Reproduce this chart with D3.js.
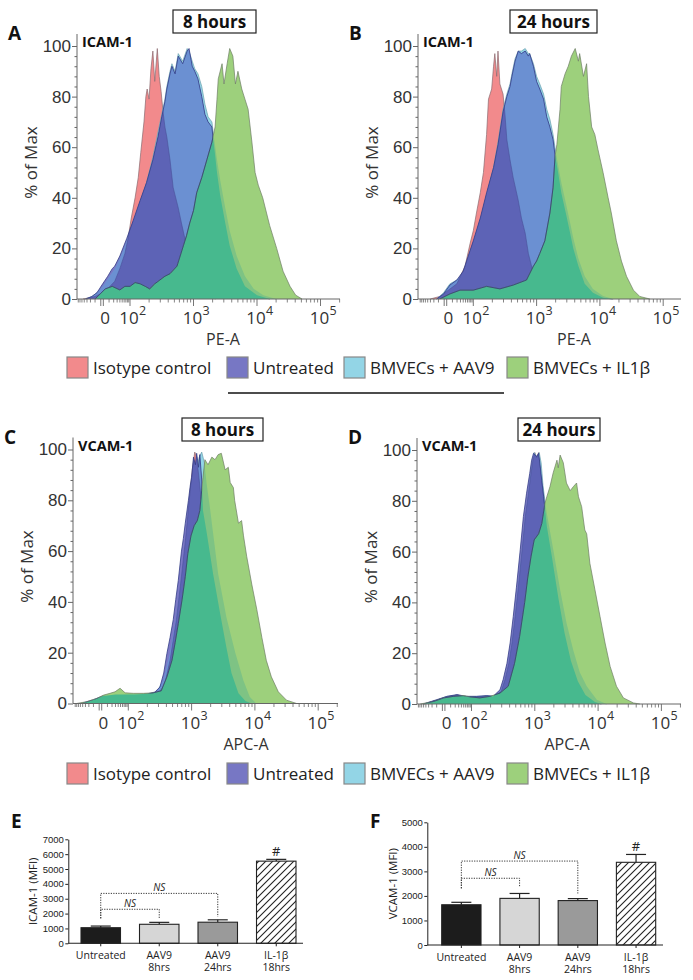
<!DOCTYPE html>
<html>
<head>
<meta charset="utf-8">
<script src="https://cdn.jsdelivr.net/npm/d3@7"></script>
<style>
  body { margin: 0; background: #fff; }
  svg { font-family: "Open Sans", sans-serif; }
</style>
</head>
<body>
<svg id="fig" width="693" height="980"></svg>
<script>
// ---- data: histograms as [display decade (10^2 = 2), % of max] ----
var seriesNames = ["Isotype control", "Untreated", "BMVECs + AAV9", "BMVECs + IL1β"];
var seriesColors = ["#f28a8c", "#7777c4", "#93d5e6", "#9dd07c"];

var isoA = [[1.26,0],[1.45,1],[1.61,3],[1.76,7],[1.84,12],[1.92,18],[1.97,24],[2.02,32],[2.08,40],[2.13,48],[2.17,58],[2.22,70],[2.25,80],[2.27,83],[2.30,79],[2.33,91],[2.36,98],[2.39,86],[2.43,99],[2.46,88],[2.49,82],[2.52,74],[2.55,68],[2.58,64],[2.63,55],[2.68,44],[2.76,36],[2.81,30],[2.89,21],[2.97,13],[3.07,5],[3.21,1],[3.35,0]];
var untrA = [[1.30,0],[1.40,1],[1.48,2.5],[1.57,6],[1.65,9],[1.72,12],[1.76,13],[1.84,17],[1.95,24],[2.05,31],[2.16,39],[2.26,46],[2.36,55],[2.44,64],[2.50,72],[2.55,78],[2.58,83],[2.63,89],[2.66,92],[2.71,89],[2.76,96],[2.83,93],[2.90,98],[2.93,99],[2.98,92],[3.02,90],[3.07,87],[3.13,80],[3.18,73],[3.23,70],[3.29,68],[3.31,63],[3.34,57],[3.37,50],[3.42,41],[3.50,30],[3.57,21],[3.68,12],[3.81,5],[4.00,1.5],[4.20,0]];
var aavA = [[1.30,0],[1.40,1],[1.48,2.5],[1.57,5],[1.65,8],[1.76,12],[1.84,16],[1.95,23],[2.05,30],[2.16,38],[2.26,46],[2.36,56],[2.44,66],[2.50,73],[2.55,79],[2.58,84],[2.63,90],[2.66,93],[2.71,90],[2.76,97],[2.83,94],[2.90,99],[2.93,98],[2.98,94],[3.02,91],[3.07,89],[3.13,84],[3.18,77],[3.23,72],[3.29,70],[3.31,66],[3.37,55],[3.42,47],[3.50,36],[3.57,27],[3.68,17],[3.81,9],[3.95,4],[4.10,1.5],[4.30,0]];
var il1A = [[1.45,0],[1.53,2],[1.61,4],[1.72,5],[1.84,3.6],[1.92,5],[2.00,5],[2.08,6.5],[2.16,6],[2.24,5],[2.31,4],[2.39,6],[2.47,7.5],[2.55,9],[2.63,10],[2.74,13],[2.79,17],[2.84,21],[2.89,25],[2.94,30],[3.00,35],[3.05,42],[3.13,48],[3.21,55],[3.29,62],[3.34,68],[3.37,79],[3.39,87],[3.42,90],[3.45,93],[3.48,85],[3.53,93],[3.57,99],[3.62,96],[3.66,85],[3.70,90],[3.76,83],[3.81,79],[3.86,75],[3.92,62],[3.97,50],[4.02,45],[4.09,40],[4.20,29],[4.31,20],[4.41,11],[4.52,5],[4.61,1.5],[4.71,0]];

var isoB = [[1.32,0],[1.47,1],[1.58,3],[1.74,6],[1.87,13],[1.95,22],[2.00,27],[2.05,34],[2.11,42],[2.16,50],[2.21,65],[2.24,79],[2.29,83],[2.32,92],[2.34,97],[2.37,88],[2.39,98],[2.42,85],[2.47,81],[2.50,73],[2.53,63],[2.58,55],[2.63,48],[2.71,39],[2.76,32],[2.82,26],[2.87,18],[2.95,10],[3.05,5],[3.21,1.6],[3.37,0]];
var untrB = [[1.42,0],[1.53,2],[1.63,5.5],[1.74,7.5],[1.84,11],[1.92,17],[2.00,23],[2.11,32],[2.21,42],[2.32,52],[2.39,61],[2.47,74],[2.53,80],[2.58,84],[2.61,88],[2.66,94],[2.71,98],[2.76,97],[2.82,98],[2.87,96],[2.89,97],[2.95,92],[3.00,86],[3.05,83],[3.11,79],[3.16,72],[3.21,68],[3.26,63],[3.29,57],[3.34,50],[3.39,42],[3.47,33],[3.53,26],[3.58,20],[3.66,13],[3.76,6],[3.89,2.5],[4.05,0.5],[4.20,0]];
var aavB = [[1.42,0],[1.53,2.5],[1.63,6],[1.74,7.5],[1.84,10],[1.92,16],[2.00,22],[2.11,31],[2.21,41],[2.32,52],[2.39,62],[2.47,75],[2.53,81],[2.58,85],[2.61,89],[2.66,95],[2.71,98],[2.76,98],[2.82,99],[2.87,97],[2.89,97],[2.95,93],[3.00,88],[3.05,85],[3.11,81],[3.16,75],[3.21,71],[3.26,65],[3.29,60],[3.34,53],[3.39,46],[3.47,37],[3.53,30],[3.58,24],[3.66,16],[3.76,9],[3.89,4],[4.05,1.2],[4.21,0]];
var il1B = [[1.47,0],[1.63,2],[1.79,3.5],[2.00,3.5],[2.21,5],[2.42,4],[2.63,5.5],[2.84,7.5],[2.95,13],[3.00,15],[3.05,18],[3.13,23],[3.21,34],[3.26,44],[3.29,56],[3.32,61],[3.37,75],[3.39,84],[3.45,89],[3.50,92],[3.55,96],[3.61,99],[3.66,94],[3.68,97],[3.74,88],[3.79,93],[3.82,80],[3.87,68],[3.92,65],[3.97,59],[4.05,50],[4.13,40],[4.18,34],[4.26,23],[4.34,15],[4.42,9],[4.53,3.5],[4.63,1],[4.79,0]];

var isoC = [[1.30,0],[1.50,1],[1.70,2.5],[2.00,3],[2.30,3],[2.47,4],[2.57,7],[2.66,17],[2.76,33],[2.84,50],[2.91,66],[2.97,82],[3.01,92],[3.05,99],[3.08,97],[3.12,88],[3.18,74],[3.25,58],[3.35,40],[3.45,24],[3.55,12],[3.65,5],[3.80,1],[3.90,0]];
var untrC = [[1.25,0],[1.45,1.5],[1.60,3],[1.80,3.5],[2.10,3.5],[2.30,3.8],[2.42,4.5],[2.50,6.5],[2.56,12],[2.61,19.7],[2.66,26],[2.71,33],[2.75,41],[2.79,48.5],[2.84,60],[2.87,65],[2.90,71],[2.95,80],[2.98,86],[3.00,89],[3.03,97],[3.06,94],[3.08,98.5],[3.11,93],[3.13,98],[3.16,88],[3.18,76],[3.24,67],[3.34,51],[3.45,35.5],[3.55,22],[3.63,12],[3.74,4],[3.85,1],[3.95,0]];
var aavC = [[1.30,0],[1.50,1.5],[1.70,3],[2.00,3.5],[2.30,3.5],[2.45,4.5],[2.55,9],[2.65,19],[2.75,33],[2.83,48],[2.90,62],[2.97,78],[3.03,88],[3.08,92],[3.12,97],[3.16,99],[3.20,95],[3.24,86],[3.29,77],[3.35,65],[3.42,51],[3.55,34],[3.69,20],[3.82,9],[3.92,2.6],[4.02,0]];
var il1C = [[1.18,0],[1.34,0.7],[1.50,2],[1.61,3.3],[1.71,4],[1.79,4.6],[1.87,6],[1.95,4.2],[2.08,4],[2.24,4],[2.39,4.2],[2.52,5],[2.61,10.5],[2.69,17],[2.74,24],[2.79,31.5],[2.85,41],[2.90,50],[2.94,59],[2.99,66],[3.04,70],[3.09,72],[3.13,76],[3.16,84],[3.18,89],[3.21,96],[3.26,94],[3.32,97],[3.37,96],[3.42,98],[3.47,98.5],[3.53,92],[3.58,93],[3.61,87],[3.66,85],[3.68,80],[3.74,71],[3.79,72],[3.82,66],[3.87,58],[3.95,47],[4.03,37],[4.11,26],[4.18,17],[4.26,10.5],[4.37,4.6],[4.50,1.3],[4.66,0]];

var isoD = [[1.25,0],[1.45,1.5],[1.61,2.8],[1.77,3.5],[1.92,3],[2.08,2.8],[2.24,3],[2.36,3],[2.47,5],[2.53,9.6],[2.59,16],[2.64,24],[2.69,34.5],[2.74,46],[2.80,60.7],[2.85,73.8],[2.90,83],[2.94,90.8],[2.97,96],[3.00,99],[3.03,97],[3.06,99],[3.09,93],[3.13,84],[3.19,70],[3.27,55],[3.37,38],[3.47,24],[3.57,13],[3.68,6],[3.80,2],[3.95,0]];
var untrD = [[1.24,0],[1.45,1.7],[1.61,3],[1.77,3.7],[1.92,3],[2.08,3],[2.24,3.3],[2.34,3],[2.45,5.6],[2.50,9.6],[2.56,16],[2.61,24],[2.66,34.5],[2.71,46],[2.77,60.7],[2.82,73.8],[2.87,83],[2.92,90.8],[2.95,96],[2.98,98.7],[3.03,97.4],[3.06,98.7],[3.08,94.8],[3.11,88],[3.14,81.6],[3.19,70],[3.27,58],[3.37,42],[3.47,28],[3.57,17],[3.68,9],[3.80,3.5],[3.95,0.8],[4.05,0]];
var aavD = [[1.24,0],[1.45,1.5],[1.61,3],[1.77,3.5],[1.92,3],[2.08,3],[2.24,3.2],[2.36,3.2],[2.46,5],[2.52,9],[2.58,15],[2.63,23],[2.68,33],[2.73,45],[2.79,59],[2.84,72],[2.89,82],[2.93,90],[2.96,95],[2.99,99],[3.04,97],[3.07,99],[3.10,95],[3.13,86],[3.16,80],[3.19,75],[3.29,61],[3.40,45],[3.50,32],[3.61,21],[3.71,12.5],[3.82,7],[3.98,1.7],[4.13,0]];
var il1D = [[1.19,0],[1.40,1],[1.56,2.4],[1.71,3],[1.87,3.3],[1.98,2.8],[2.13,2.4],[2.29,3],[2.45,4.3],[2.58,7],[2.68,16],[2.76,26.6],[2.84,40],[2.89,50],[2.94,58],[2.99,64.6],[3.06,67],[3.11,71],[3.16,79],[3.19,81.6],[3.24,85.6],[3.29,91],[3.35,96],[3.37,93],[3.40,98],[3.45,95],[3.50,87],[3.56,84],[3.61,85.6],[3.66,87],[3.69,81.6],[3.74,77.7],[3.79,68.5],[3.82,67],[3.87,55.4],[3.95,45],[4.03,34.5],[4.11,24],[4.19,14.8],[4.29,7],[4.40,2.4],[4.56,0.4],[4.66,0]];

var histYTicks = [0, 20, 40, 60, 80, 100];
var histXMajor = [2, 3, 4, 5];
var histXLabels = ["2", "3", "4", "5"];

// ---- bar charts ----
var barCats = ["Untreated", "AAV9|8hrs", "AAV9|24hrs", "IL-1β|18hrs"];
var icamMean = [1050, 1280, 1420, 5530];
var icamErr = [110, 130, 160, 120];
var vcamMean = [1640, 1900, 1810, 3370];
var vcamErr = [100, 200, 80, 320];
var icamTicks = [0, 1000, 2000, 3000, 4000, 5000, 6000, 7000];
var vcamTicks = [0, 1000, 2000, 3000, 4000, 5000];
// NS brackets: [from bar, to bar, height, left foot, right foot]
var icamNS = [[0, 1, 2290, 1680, 1680], [0, 2, 3360, 1680, 1790]];
var vcamNS = [[0, 1, 2720, 2310, 2350], [0, 2, 3420, 2310, 2100]];

var svg = d3.select("#fig");
var defs = svg.append("defs");

var pat = defs.append("pattern").attr("id", "hatch").attr("patternUnits", "userSpaceOnUse")
    .attr("width", 7).attr("height", 7);
pat.append("rect").attr("width", 7).attr("height", 7).attr("fill", "#fff");
pat.append("path").attr("d", "M-1,1 L1,-1 M0,7 L7,0 M6,8 L8,6")
    .attr("stroke", "#222").attr("stroke-width", 1.1);

// logicle-ish position of small linear values (0..100) around zero
function linPos(v, p0) {
  var s = v < 0 ? -1 : 1;
  return p0 + s * 0.44 * Math.log10(1 + Math.abs(v) / 15) / Math.log10(1 + 100 / 15);
}

function drawHist(cfg) {
  var g = svg.append("g");
  var x = d3.scaleLinear().domain([2, 3]).range([cfg.x2, cfg.x2 + cfg.dec]);
  x.domain([x.invert(cfg.ox), x.invert(cfg.right)]).range([cfg.ox, cfg.right]);
  var y = d3.scaleLinear().domain([0, 100]).range([cfg.y0, cfg.y100]);
  var area = d3.area().x(function(d){ return x(d[0]); }).y0(y(0)).y1(function(d){ return y(d[1]); });
  var line = d3.line().x(function(d){ return x(d[0]); }).y(function(d){ return y(d[1]); });
  var iso = cfg.data[0], untr = cfg.data[1], aav = cfg.data[2], il1 = cfg.data[3];

  defs.append("clipPath").attr("id", cfg.id + "u").append("path").attr("d", area(untr));
  defs.append("clipPath").attr("id", cfg.id + "a").append("path").attr("d", area(aav));

  function outline(d, col, w, clip) {
    var p = g.append("path").attr("d", line(d)).attr("fill", "none").attr("stroke", col).attr("stroke-width", w);
    if (clip) p.attr("clip-path", "url(#" + cfg.id + clip + ")");
  }
  g.append("path").attr("d", area(iso)).attr("fill", "#f28a8c");
  outline(iso, "#8a6a70", 0.7);
  g.append("path").attr("d", area(aav)).attr("fill", "#93d5e6");
  outline(aav, "#6d9fae", 0.7);
  g.append("path").attr("d", area(untr)).attr("fill", "#7b79c6");
  g.append("path").attr("d", area(untr)).attr("fill", "#6b90d2").attr("clip-path", "url(#" + cfg.id + "a)");
  g.append("path").attr("d", area(iso)).attr("fill", "#5d63b6").attr("clip-path", "url(#" + cfg.id + "u)");
  outline(iso, "#4a5098", 0.6, "u");
  outline(untr, "#333d86", 0.8);
  g.append("path").attr("d", area(il1)).attr("fill", "#9dd07c");
  g.append("path").attr("d", area(il1)).attr("fill", "#7ec384").attr("clip-path", "url(#" + cfg.id + "a)");
  g.append("path").attr("d", area(il1)).attr("fill", "#47b98e").attr("clip-path", "url(#" + cfg.id + "u)");
  outline(il1, "#6f7d66", 0.7);
  outline(il1, "#2d3d7c", 0.8, "u");

  // y axis
  var ya = g.append("g").attr("transform", "translate(" + cfg.ox + ",0)")
      .call(d3.axisLeft(y).tickValues(histYTicks).tickSize(5).tickSizeOuter(0).tickPadding(1));
  ya.select(".domain").remove();
  ya.selectAll("line").attr("stroke", "#666");
  ya.selectAll("text").attr("font-size", 17).attr("fill", "#333");
  var ym = g.append("g").attr("transform", "translate(" + cfg.ox + ",0)")
      .call(d3.axisLeft(y).tickValues(d3.range(0, 101, 4).filter(function(v){ return v % 20; }))
      .tickSize(2.5).tickFormat(""));
  ym.select(".domain").remove();
  ym.selectAll("line").attr("stroke", "#666");
  g.append("line").attr("x1", cfg.ox).attr("x2", cfg.ox).attr("y1", cfg.y0).attr("y2", cfg.y100 - 12)
      .attr("stroke", "#666").attr("stroke-width", 1);

  // x axis (logicle style)
  var p0 = 1.56;
  var minors = [];
  [10, 20, 30, 40, 50, 60, 70, 80, 90].forEach(function(v){ minors.push(linPos(v, p0)); minors.push(linPos(-v, p0)); });
  [2, 3, 4, 5].forEach(function(d){ for (var k = 2; k <= 9; k++) minors.push(d + Math.log10(k)); });
  minors = minors.filter(function(p){ return x(p) > cfg.ox + 1 && x(p) < cfg.right; });
  var xa = g.append("g").attr("transform", "translate(0," + cfg.y0 + ")");
  xa.append("line").attr("x1", cfg.ox).attr("x2", cfg.right).attr("stroke", "#666");
  xa.selectAll(".mn").data(minors).enter().append("line")
      .attr("x1", function(p){ return x(p); }).attr("x2", function(p){ return x(p); })
      .attr("y1", 0).attr("y2", 3.5).attr("stroke", "#666").attr("stroke-width", 0.8);
  xa.selectAll(".mj").data(histXMajor.concat([p0 - 0.02, p0 + 0.02])).enter().append("line")
      .attr("x1", function(p){ return x(p); }).attr("x2", function(p){ return x(p); })
      .attr("y1", 0).attr("y2", 7).attr("stroke", "#666").attr("stroke-width", 0.9);
  var lb = cfg.y0 + 25;
  g.append("text").attr("x", x(p0) + 3).attr("y", lb).attr("text-anchor", "middle")
      .attr("font-size", 17).attr("fill", "#333").text("0");
  histXMajor.forEach(function(p, i){
    g.append("text").attr("x", x(p) - 1).attr("y", lb).attr("text-anchor", "middle")
        .attr("font-size", 17).attr("fill", "#333").text("10");
    g.append("text").attr("x", x(p) + 9).attr("y", lb - 9)
        .attr("font-size", 12.5).attr("fill", "#333").text(histXLabels[i]);
  });
  g.append("text").attr("x", cfg.xlabX).attr("y", cfg.y0 + 46).attr("text-anchor", "middle")
      .attr("font-size", 16).attr("fill", "#333").text(cfg.xlabel);
  g.append("text").attr("transform", "translate(" + (cfg.ox - 40) + "," + ((cfg.y0 + cfg.y100) / 2 - 10) + ") rotate(-90)")
      .attr("text-anchor", "middle").attr("font-size", 17).attr("fill", "#333").text("% of Max");

  // labels
  g.append("text").attr("x", cfg.ox - 69).attr("y", cfg.y100 - 6).attr("font-size", 19)
      .attr("font-weight", "bold").attr("fill", "#111").text(cfg.letter);
  g.append("text").attr("x", cfg.ox + 5).attr("y", cfg.y100 + 1).attr("font-size", 14.5)
      .attr("font-weight", "bold").attr("fill", "#111").text(cfg.marker);
  g.append("rect").attr("x", cfg.box[0]).attr("y", cfg.box[1]).attr("width", cfg.box[2]).attr("height", 23)
      .attr("fill", "#fff").attr("stroke", "#222").attr("stroke-width", 1.2);
  g.append("text").attr("x", cfg.box[0] + cfg.box[2] / 2).attr("y", cfg.box[1] + 17.5).attr("text-anchor", "middle")
      .attr("font-size", 17).attr("font-weight", "bold").attr("fill", "#111").text(cfg.title);
}

drawHist({id: "pa", ox: 77, x2: 130, dec: 63.5, right: 340, y0: 299, y100: 46, letter: "A", marker: "ICAM-1",
  title: "8 hours", box: [173, 10, 83], xlabel: "PE-A", xlabX: 223, data: [isoA, untrA, aavA, il1A]});
drawHist({id: "pb", ox: 418, x2: 473.3, dec: 63.3, right: 681, y0: 299, y100: 46, letter: "B", marker: "ICAM-1",
  title: "24 hours", box: [510, 10, 87], xlabel: "PE-A", xlabX: 574, data: [isoB, untrB, aavB, il1B]});
drawHist({id: "pc", ox: 73, x2: 128.3, dec: 63.3, right: 338, y0: 703.5, y100: 449.5, letter: "C", marker: "VCAM-1",
  title: "8 hours", box: [182, 418, 81], xlabel: "APC-A", xlabX: 246, data: [isoC, untrC, aavC, il1C]});
drawHist({id: "pd", ox: 417, x2: 471.5, dec: 63.3, right: 681, y0: 704, y100: 450, letter: "D", marker: "VCAM-1",
  title: "24 hours", box: [518, 418, 82], xlabel: "APC-A", xlabX: 567, data: [isoD, untrD, aavD, il1D]});

// legends
function drawLegend(top) {
  var xs = [67, 227, 344, 507];
  seriesNames.forEach(function(n, i){
    svg.append("rect").attr("x", xs[i]).attr("y", top).attr("width", 21).attr("height", 21)
        .attr("fill", seriesColors[i]).attr("stroke", "#888").attr("stroke-width", 1.2);
    svg.append("text").attr("x", xs[i] + 26).attr("y", top + 17).attr("font-size", 17)
        .attr("fill", "#222").text(n);
  });
}
drawLegend(357);
drawLegend(763);
svg.append("line").attr("x1", 228).attr("x2", 504).attr("y1", 393).attr("y2", 393)
    .attr("stroke", "#111").attr("stroke-width", 1.3);

// bar charts
function drawBars(cfg) {
  var g = svg.append("g");
  var y = d3.scaleLinear().domain([0, cfg.ticks[cfg.ticks.length - 1]]).range([cfg.y0, cfg.yTop]);
  var x = d3.scaleBand().domain(barCats).range([cfg.b0, cfg.b1]).paddingInner(0.325).paddingOuter(0);
  var fills = ["#1c1c1c", "#d6d6d6", "#9a9a9a", "url(#hatch)"];
  var bw = x.bandwidth();

  barCats.forEach(function(c, i){
    var cx = x(c) + bw / 2;
    g.append("line").attr("x1", cx).attr("x2", cx).attr("y1", y(cfg.mean[i])).attr("y2", y(cfg.mean[i] + cfg.err[i]))
        .attr("stroke", "#222").attr("stroke-width", 1.2);
    g.append("line").attr("x1", cx - 10).attr("x2", cx + 10).attr("y1", y(cfg.mean[i] + cfg.err[i])).attr("y2", y(cfg.mean[i] + cfg.err[i]))
        .attr("stroke", "#222").attr("stroke-width", 1.2);
    g.append("rect").attr("x", x(c)).attr("y", y(cfg.mean[i])).attr("width", bw)
        .attr("height", y(0) - y(cfg.mean[i])).attr("fill", fills[i]).attr("stroke", "#222").attr("stroke-width", 1.1);
    g.append("line").attr("x1", cx).attr("x2", cx).attr("y1", cfg.y0).attr("y2", cfg.y0 + 3).attr("stroke", "#222");
    c.split("|").forEach(function(s, k){
      g.append("text").attr("x", cx).attr("y", cfg.y0 + 15.5 + k * 12.5).attr("text-anchor", "middle")
          .attr("font-size", 10.5).attr("fill", "#222").text(s);
    });
  });

  var ya = g.append("g").attr("transform", "translate(" + cfg.ox + ",0)")
      .call(d3.axisLeft(y).tickValues(cfg.ticks).tickFormat(d3.format("d")).tickSize(3).tickSizeOuter(0).tickPadding(1.5));
  ya.select(".domain").attr("stroke", "#222");
  ya.selectAll("line").attr("stroke", "#222");
  ya.selectAll("text").attr("font-size", 9.5).attr("fill", "#222");
  g.append("line").attr("x1", cfg.ox).attr("x2", cfg.right).attr("y1", cfg.y0).attr("y2", cfg.y0)
      .attr("stroke", "#222").attr("stroke-width", 1.1);
  g.append("text").attr("transform", "translate(" + cfg.ylabX + "," + (cfg.y0 + cfg.yTop) / 2 + ") rotate(-90)")
      .attr("text-anchor", "middle").attr("font-size", 11.5).attr("fill", "#222").text(cfg.ylabel);
  g.append("text").attr("x", cfg.letterX).attr("y", 828).attr("font-size", 19).attr("font-weight", "bold")
      .attr("fill", "#111").text(cfg.letter);

  cfg.ns.forEach(function(b){
    var xa = x(barCats[b[0]]) + bw / 2, xb = x(barCats[b[1]]) + bw / 2;
    g.append("path").attr("d", "M" + xa + "," + y(b[3]) + "V" + y(b[2]) + "H" + xb + "V" + y(b[4]))
        .attr("fill", "none").attr("stroke", "#333").attr("stroke-width", 1).attr("stroke-dasharray", "1.2,1.3");
    g.append("text").attr("x", (xa + xb) / 2).attr("y", y(b[2]) - 2.5).attr("text-anchor", "middle")
        .attr("font-size", 10).attr("font-style", "italic").attr("fill", "#222").text("NS");
  });
  var last = barCats[3];
  g.append("text").attr("x", x(last) + bw / 2).attr("y", y(cfg.mean[3] + cfg.err[3]) - 3).attr("text-anchor", "middle")
      .attr("font-size", 13).attr("fill", "#222").text("#");
}

drawBars({ox: 68.3, right: 303, y0: 943.3, yTop: 839.3, b0: 81, b1: 296, ticks: icamTicks,
  mean: icamMean, err: icamErr, ns: icamNS, ylabel: "ICAM-1 (MFI)", ylabX: 37, letter: "E", letterX: 11});
drawBars({ox: 427.3, right: 663, y0: 945, yTop: 822.3, b0: 441.7, b1: 655.7, ticks: vcamTicks,
  mean: vcamMean, err: vcamErr, ns: vcamNS, ylabel: "VCAM-1 (MFI)", ylabX: 397, letter: "F", letterX: 370});
</script>
</body>
</html>
